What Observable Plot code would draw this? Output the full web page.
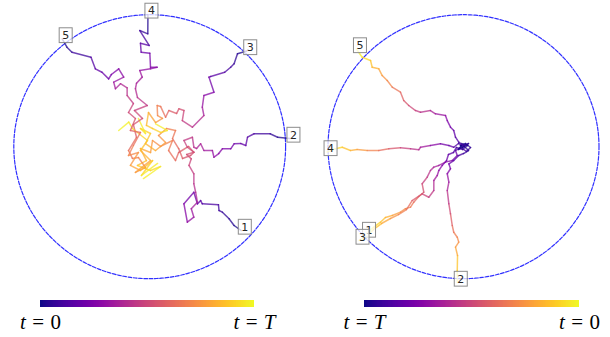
<!DOCTYPE html>
<html><head><meta charset="utf-8">
<script src="https://cdn.jsdelivr.net/npm/d3@7"></script>
<script src="https://cdn.jsdelivr.net/npm/@observablehq/plot@0.6"></script>
<style>
body{margin:0;background:#fff;}
#fig{display:flex;width:610px;height:337px;}
.col{width:305px;}
svg{display:block;}
</style></head><body>
<div id="fig"><div class="col" id="L"></div><div class="col" id="R"></div></div>
<script>
// Walk labels (one per walk, drawn at each walk's first point)
const walkLabels = ["1","2","3","4","5"];

// Left panel: forward walks, [x, y] in unit-circle coordinates, in time order
const leftWalk1 = [[0.674,-0.635],[0.621,-0.597],[0.584,-0.546],[0.535,-0.496],[0.510,-0.483],[0.506,-0.440],[0.387,-0.433],[0.375,-0.408],[0.351,-0.433],[0.325,-0.345],[0.252,-0.433],[0.277,-0.572],[0.325,-0.534],[0.306,-0.470],[0.351,-0.420],[0.338,-0.345],[0.325,-0.281],[0.325,-0.205],[0.289,-0.142],[0.306,-0.092],[0.272,-0.059],[0.325,-0.042],[0.286,0.002],[0.213,-0.044],[0.190,-0.105],[0.139,-0.029],[0.168,0.047],[0.080,0.002],[0.021,0.047],[0.006,-0.044],[-0.068,-0.014],[-0.024,-0.105],[-0.090,-0.142],[0.006,-0.180],[0.080,-0.150],[-0.046,-0.241]];
const leftWalk2 = [[1.032,0.062],[0.941,0.072],[0.886,0.098],[0.768,0.098],[0.720,0.072],[0.707,0.009],[0.670,0.024],[0.621,0.022],[0.596,-0.016],[0.535,-0.016],[0.508,-0.052],[0.473,-0.080],[0.461,-0.029],[0.399,-0.029],[0.375,0.022],[0.345,-0.014],[0.325,-0.004],[0.314,0.072],[0.252,0.047],[0.277,-0.004],[0.325,-0.042],[0.301,-0.067],[0.242,-0.089],[0.213,-0.014],[0.168,0.062],[0.190,0.123],[0.124,0.138],[0.065,0.085],[0.117,0.032],[0.043,-0.029],[-0.031,0.024],[0.006,0.100],[-0.068,0.138],[-0.031,0.100],[-0.083,0.214]];
const leftWalk3 = [[0.714,0.725],[0.646,0.704],[0.621,0.628],[0.596,0.602],[0.552,0.564],[0.449,0.532],[0.436,0.527],[0.473,0.413],[0.399,0.388],[0.387,0.299],[0.399,0.236],[0.314,0.148],[0.240,0.198],[0.252,0.274],[0.215,0.287],[0.198,0.252],[0.141,0.274],[0.117,0.223],[0.080,0.305],[0.055,0.312],[0.058,0.236],[0.094,0.214],[0.043,0.183],[-0.009,0.259],[-0.024,0.161],[0.021,0.138],[0.080,0.108],[0.129,0.123],[0.043,0.173]];
const leftWalk4 = [[-0.013,1.002],[-0.014,0.855],[-0.073,0.880],[-0.004,0.767],[-0.068,0.784],[-0.063,0.716],[0.001,0.708],[0.006,0.602],[0.055,0.602],[0.006,0.590],[-0.073,0.577],[-0.055,0.527],[-0.097,0.481],[-0.105,0.439],[-0.090,0.373],[-0.018,0.312],[-0.112,0.274],[-0.053,0.214],[-0.120,0.168],[-0.097,0.070],[-0.156,-0.029],[-0.127,-0.089],[-0.083,-0.082],[-0.031,-0.158],[-0.105,-0.195],[0.006,-0.105],[-0.068,-0.029],[-0.016,0.047],[-0.127,0.138],[-0.154,0.186],[-0.228,0.123]];
const leftWalk5 = [[-0.644,0.816],[-0.609,0.754],[-0.572,0.716],[-0.432,0.678],[-0.400,0.590],[-0.351,0.564],[-0.302,0.514],[-0.282,0.547],[-0.228,0.590],[-0.191,0.527],[-0.265,0.489],[-0.252,0.439],[-0.215,0.477],[-0.166,0.446],[-0.166,0.388],[-0.120,0.327],[-0.156,0.259],[-0.105,0.214],[-0.142,0.123],[-0.068,0.108],[-0.120,0.009],[-0.156,-0.067],[-0.083,-0.044],[-0.142,-0.142],[-0.068,-0.180],[0.021,-0.105],[-0.061,-0.218],[0.058,-0.127]];

// Right panel: reversed walks, [x, y] in unit-circle coordinates, from t = 0 (boundary) to t = T (centre)
const rightWalk1 = [[-0.723,-0.658],[-0.662,-0.610],[-0.613,-0.572],[-0.576,-0.536],[-0.526,-0.521],[-0.465,-0.496],[-0.428,-0.470],[-0.391,-0.458],[-0.367,-0.420],[-0.330,-0.377],[-0.293,-0.345],[-0.305,-0.281],[-0.268,-0.231],[-0.244,-0.180],[-0.219,-0.155],[-0.182,-0.142],[-0.133,-0.117],[-0.083,-0.105],[-0.046,-0.067],[-0.059,-0.029],[-0.022,-0.006],[0.022,-0.036],[0.052,-0.006],[0.015,0.024],[-0.022,0.009]];
const rightWalk2 = [[-0.046,-1.029],[-0.046,-0.938],[-0.044,-0.824],[-0.059,-0.761],[-0.035,-0.723],[-0.046,-0.686],[-0.072,-0.648],[-0.083,-0.597],[-0.096,-0.508],[-0.108,-0.433],[-0.120,-0.332],[-0.108,-0.269],[-0.120,-0.205],[-0.096,-0.167],[-0.108,-0.130],[-0.072,-0.105],[-0.035,-0.067],[0.000,-0.052],[0.037,-0.029],[0.007,0.002],[-0.022,0.009]];
const rightWalk3 = [[-0.771,-0.711],[-0.716,-0.680],[-0.664,-0.627],[-0.605,-0.582],[-0.539,-0.544],[-0.480,-0.514],[-0.421,-0.476],[-0.379,-0.408],[-0.305,-0.357],[-0.256,-0.383],[-0.219,-0.332],[-0.219,-0.256],[-0.194,-0.218],[-0.182,-0.180],[-0.157,-0.142],[-0.125,-0.105],[-0.111,-0.059],[-0.074,-0.044],[-0.052,-0.006],[-0.007,-0.021],[0.030,0.009],[-0.015,0.024]];
const rightWalk4 = [[-1.007,-0.040],[-0.945,-0.016],[-0.895,-0.004],[-0.834,-0.029],[-0.785,-0.021],[-0.711,-0.029],[-0.625,-0.029],[-0.551,-0.016],[-0.465,-0.008],[-0.391,-0.016],[-0.330,-0.023],[-0.317,-0.004],[-0.244,0.009],[-0.170,0.022],[-0.108,0.009],[-0.072,-0.004],[-0.037,0.024],[0.007,0.002],[-0.037,-0.021],[-0.015,0.009]];
const rightWalk5 = [[-0.790,0.740],[-0.748,0.678],[-0.686,0.653],[-0.674,0.602],[-0.625,0.590],[-0.600,0.539],[-0.563,0.502],[-0.526,0.451],[-0.465,0.413],[-0.441,0.350],[-0.404,0.312],[-0.354,0.274],[-0.317,0.261],[-0.244,0.274],[-0.207,0.249],[-0.133,0.236],[-0.120,0.198],[-0.096,0.148],[-0.072,0.123],[-0.059,0.072],[-0.035,0.034],[0.002,0.009],[0.037,0.024],[-0.007,-0.006],[-0.022,0.009]];

// Colorbar end labels
const leftBarLabels = ["t = 0", "t = T"];
const rightBarLabels = ["t = T", "t = 0"];

const leftWalks = [leftWalk1, leftWalk2, leftWalk3, leftWalk4, leftWalk5];
const rightWalks = [rightWalk1, rightWalk2, rightWalk3, rightWalk4, rightWalk5];

// Split each walk into segments; colour value = elapsed fraction of the walk (reversed on the right)
function segments(walks, reverse) {
  const segs = [];
  walks.forEach((w, k) => {
    const cum = [0];
    for (let i = 1; i < w.length; i++) cum.push(cum[i-1] + Math.hypot(w[i][0]-w[i-1][0], w[i][1]-w[i-1][1]));
    const L = cum[cum.length-1];
    for (let i = 1; i < w.length; i++) {
      const s = (cum[i-1] + cum[i]) / 2 / L;
      segs.push({walk: walkLabels[k], x1: w[i-1][0], y1: w[i-1][1], x2: w[i][0], y2: w[i][1], c: reverse ? 1 - s : s});
    }
  });
  return segs;
}

const circle = d3.range(0, 361).map(a => ({x: Math.cos(a * Math.PI / 180), y: Math.sin(a * Math.PI / 180)}));

function panel(walks, reverse, margins) {
  const starts = walks.map((w, k) => ({x: w[0][0], y: w[0][1], label: walkLabels[k]}));
  return Plot.plot({
    width: 305, height: 290, ...margins,
    style: {background: "white", overflow: "visible"},
    x: {domain: [-1, 1], axis: null},
    y: {domain: [-1, 1], axis: null},
    color: {type: "linear", scheme: "plasma", domain: [0, 1]},
    marks: [
      Plot.line(circle, {x: "x", y: "y", stroke: "#1a1aff", strokeOpacity: 0.9, strokeWidth: 1.2, strokeDasharray: "3.7,1.6"}),
      Plot.link(segments(walks, reverse), {x1: "x1", y1: "y1", x2: "x2", y2: "y2", stroke: "c", strokeWidth: 1.5, strokeOpacity: 0.75, strokeLinecap: "round"}),
      Plot.text(starts, {x: "x", y: "y", text: "label", textAnchor: "start", lineAnchor: "bottom", fontSize: 11, fill: "#262626", fontFamily: "DejaVu Sans"})
    ]
  });
}

function colorbar(labels, margins) {
  const cells = d3.range(256).map(i => ({u0: i / 256, u1: (i + 1) / 256, c: (i + 0.5) / 256}));
  const ends = [{u: 0, label: labels[0]}, {u: 1, label: labels[1]}];
  return Plot.plot({
    width: 305, height: 47, marginTop: 10, marginBottom: 30, ...margins,
    style: {background: "white", overflow: "visible"},
    x: {domain: [0, 1], axis: null},
    y: {domain: [0, 1], axis: null},
    color: {type: "linear", scheme: "plasma", domain: [0, 1]},
    marks: [
      Plot.rect(cells, {x1: "u0", x2: "u1", y1: 0, y2: 1, fill: "c", shapeRendering: "crispEdges"}),
      Plot.text(ends, {x: "u", y: 0, text: "label", textAnchor: "middle", lineAnchor: "bottom", dy: 21.5, fontSize: 21, fill: "black", fontFamily: "Liberation Serif"})
    ]
  });
}

function addBoxes(svg) {
  d3.select(svg).selectAll('g[aria-label="text"] text').each(function() {
    const b = this.getBBox();
    const r = document.createElementNS("http://www.w3.org/2000/svg", "rect");
    const tr = this.getAttribute("transform");
    if (tr) r.setAttribute("transform", tr);
    r.setAttribute("x", b.x - 3);
    r.setAttribute("y", b.y - 1.2);
    r.setAttribute("width", b.width + 6);
    r.setAttribute("height", b.height + 1.8);
    r.setAttribute("fill", "white");
    r.setAttribute("fill-opacity", 0.75);
    r.setAttribute("stroke", "#8c8c8c");
    r.setAttribute("stroke-width", 1);
    this.parentNode.insertBefore(r, this);
  });
}

function texify(svg) {
  d3.select(svg).selectAll('g[aria-label="text"] text').each(function() {
    const parts = this.textContent.split(" ");
    const t = d3.select(this);
    t.text(null);
    parts.forEach((p, i) => {
      const ts = t.append("tspan").text(p);
      if (/[A-Za-z]/.test(p)) ts.attr("font-style", "italic");
      if (i > 0) ts.attr("dx", "0.3em");
    });
  });
}

const L = document.getElementById("L"), R = document.getElementById("R");
const pl = panel(leftWalks, false, {marginLeft: 13.3, marginRight: 19.9, marginTop: 14.2, marginBottom: 11.8});
const pr = panel(rightWalks, true, {marginLeft: 22.5, marginRight: 11.5, marginTop: 14.2, marginBottom: 11.8});
const cl = colorbar(leftBarLabels, {marginLeft: 40, marginRight: 51});
const cr = colorbar(rightBarLabels, {marginLeft: 59, marginRight: 31});
L.append(pl, cl); R.append(pr, cr);
addBoxes(pl); addBoxes(pr);
texify(cl); texify(cr);
</script></body></html>
